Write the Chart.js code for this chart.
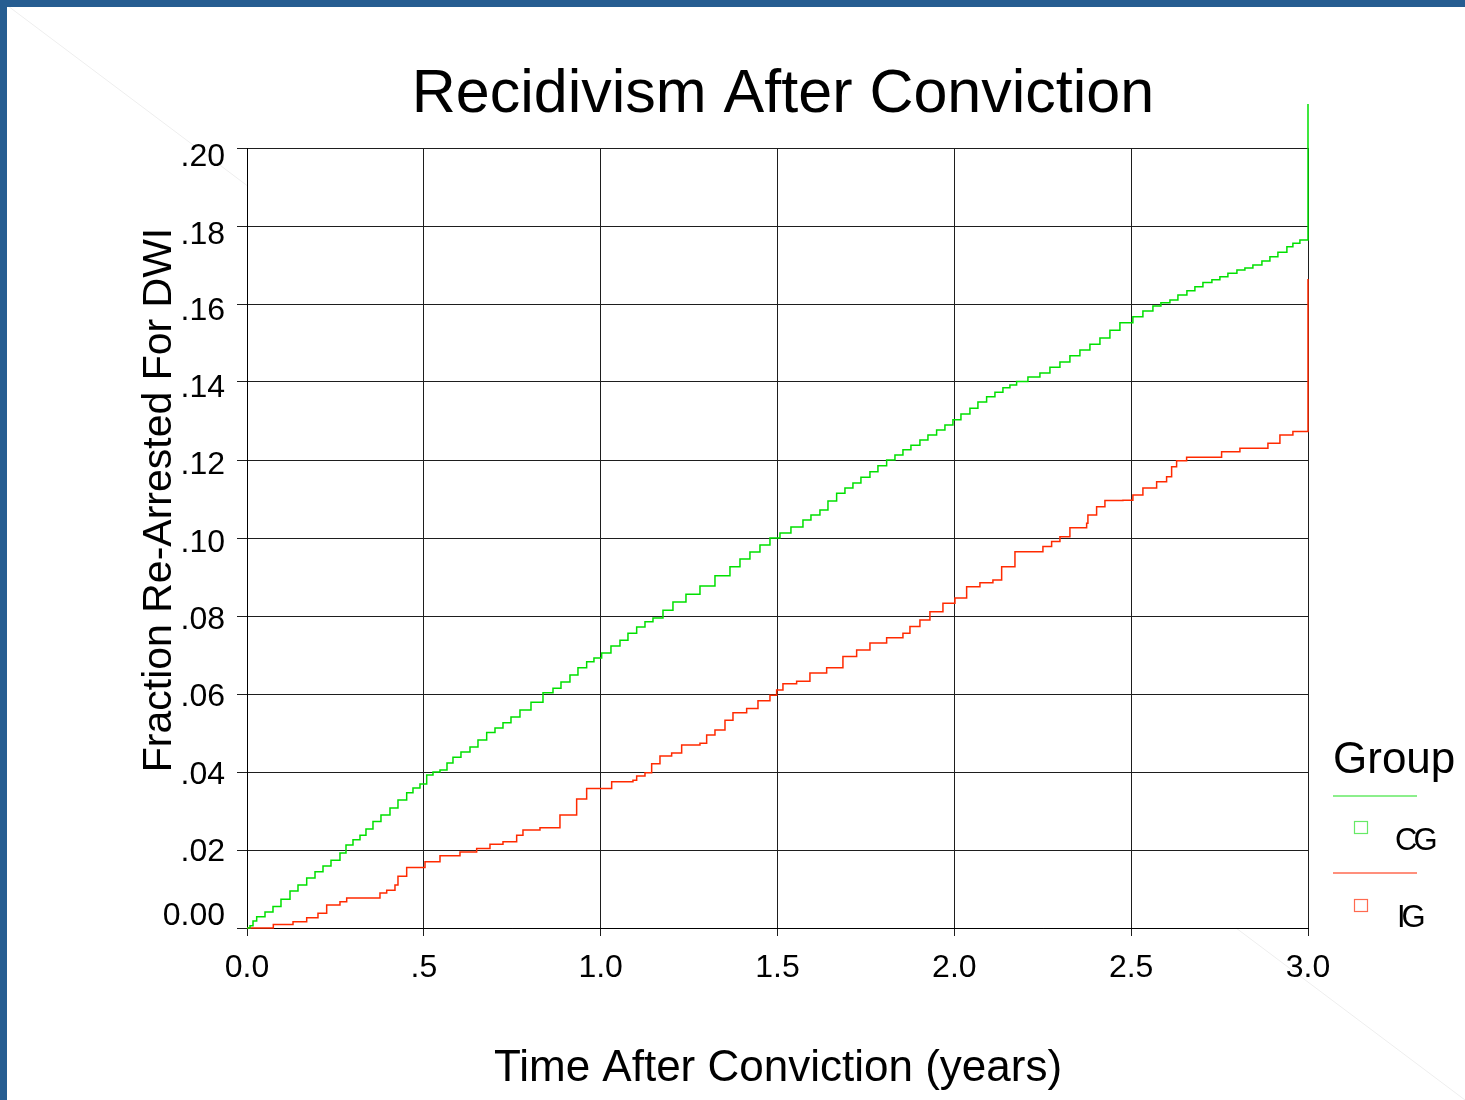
<!DOCTYPE html>
<html><head><meta charset="utf-8">
<script src="https://cdn.jsdelivr.net/npm/chart.js@4.4.1/dist/chart.umd.min.js"></script>
<style>html,body{margin:0;padding:0;background:#fff;overflow:hidden}canvas{display:block}</style>
</head><body>
<canvas id="c" width="1465" height="1100"></canvas>
<script>
const chartTitle = 'Recidivism After Conviction';
const xAxisTitle = 'Time After Conviction (years)';
const yAxisTitle = 'Fraction Re-Arrested For DWI';
const legendTitle = 'Group';
const groupNames = ['CG', 'IG'];
const xTickLabels = ['0.0', '.5', '1.0', '1.5', '2.0', '2.5', '3.0'];
const yTickLabels = ['0.00', '.02', '.04', '.06', '.08', '.10', '.12', '.14', '.16', '.18', '.20'];

const cgTime = [0, 0.0085, 0.0170, 0.0274, 0.0509, 0.0735, 0.0961, 0.1216, 0.1442, 0.1688, 0.1923, 0.2149, 0.2375, 0.2629, 0.2799, 0.2997, 0.3195, 0.3364, 0.3562, 0.3788, 0.4043, 0.4269, 0.4515, 0.4693, 0.4891, 0.5081, 0.5259, 0.5457, 0.5655, 0.5824, 0.6050, 0.6305, 0.6531, 0.6777, 0.7012, 0.7238, 0.7464, 0.7718, 0.8030, 0.8369, 0.8652, 0.8878, 0.9132, 0.9358, 0.9604, 0.9810, 1.0028, 1.0291, 1.0546, 1.0772, 1.1018, 1.1253, 1.1479, 1.1762, 1.2044, 1.2412, 1.2808, 1.3232, 1.3656, 1.3939, 1.4221, 1.4504, 1.4787, 1.5070, 1.5380, 1.5720, 1.5946, 1.6200, 1.6427, 1.6672, 1.6907, 1.7133, 1.7359, 1.7614, 1.7840, 1.8086, 1.8321, 1.8547, 1.8773, 1.9027, 1.9254, 1.9499, 1.9734, 1.9960, 2.0187, 2.0441, 2.0667, 2.0913, 2.1148, 2.1374, 2.1572, 2.1761, 2.2081, 2.2420, 2.2703, 2.2986, 2.3268, 2.3551, 2.3834, 2.4117, 2.4399, 2.4682, 2.5049, 2.5332, 2.5615, 2.5841, 2.6096, 2.6322, 2.6576, 2.6802, 2.7029, 2.7283, 2.7509, 2.7735, 2.7990, 2.8216, 2.8442, 2.8697, 2.8923, 2.9149, 2.9403, 2.9573, 2.9771, 3.0, 3.0];
const cgFrac = [0, 0.0006, 0.0018, 0.0029, 0.0041, 0.0055, 0.0074, 0.0095, 0.0110, 0.0128, 0.0144, 0.0159, 0.0174, 0.0192, 0.0213, 0.0226, 0.0238, 0.0254, 0.0273, 0.0290, 0.0308, 0.0328, 0.0347, 0.0359, 0.0369, 0.0392, 0.0400, 0.0405, 0.0423, 0.0438, 0.0451, 0.0464, 0.0482, 0.0501, 0.0513, 0.0526, 0.0541, 0.0559, 0.0579, 0.0603, 0.0615, 0.0631, 0.0649, 0.0667, 0.0683, 0.0692, 0.0705, 0.0723, 0.0738, 0.0756, 0.0772, 0.0785, 0.0795, 0.0815, 0.0836, 0.0856, 0.0877, 0.0903, 0.0926, 0.0946, 0.0964, 0.0982, 0.1000, 0.1013, 0.1028, 0.1046, 0.1059, 0.1072, 0.1095, 0.1115, 0.1128, 0.1141, 0.1156, 0.1170, 0.1185, 0.1200, 0.1213, 0.1226, 0.1238, 0.1251, 0.1264, 0.1277, 0.1290, 0.1303, 0.1318, 0.1333, 0.1349, 0.1362, 0.1374, 0.1385, 0.1392, 0.1401, 0.1413, 0.1423, 0.1438, 0.1451, 0.1467, 0.1482, 0.1497, 0.1513, 0.1533, 0.1552, 0.1567, 0.1582, 0.1595, 0.1603, 0.1610, 0.1623, 0.1634, 0.1644, 0.1655, 0.1662, 0.1670, 0.1679, 0.1687, 0.1692, 0.1700, 0.1710, 0.1721, 0.1733, 0.1747, 0.1756, 0.1764, 0.1774, 0.2113];

const igTime = [0, 0.0744, 0.1301, 0.1688, 0.2007, 0.2253, 0.2629, 0.2819, 0.3562, 0.3760, 0.3950, 0.4184, 0.4269, 0.4515, 0.5033, 0.5457, 0.6022, 0.6494, 0.6870, 0.7238, 0.7625, 0.7803, 0.8284, 0.8849, 0.9321, 0.9604, 1.0311, 1.0913, 1.1018, 1.1253, 1.1442, 1.1677, 1.2007, 1.2290, 1.2808, 1.2997, 1.3232, 1.3515, 1.3741, 1.4128, 1.4448, 1.4787, 1.4976, 1.5154, 1.5541, 1.5917, 1.6390, 1.6850, 1.7238, 1.7614, 1.8086, 1.8547, 1.8745, 1.9027, 1.9310, 1.9678, 2.0017, 2.0348, 2.0724, 2.1091, 2.1338, 2.1714, 2.2505, 2.2751, 2.2986, 2.3268, 2.3741, 2.3777, 2.4023, 2.4258, 2.4767, 2.5049, 2.5332, 2.5720, 2.6002, 2.6144, 2.6285, 2.6568, 2.7557, 2.8075, 2.8867, 2.9206, 2.9573, 3.0, 3.0];
const igFrac = [0, 0.0009, 0.0016, 0.0026, 0.0038, 0.0059, 0.0067, 0.0077, 0.0077, 0.0090, 0.0097, 0.0110, 0.0133, 0.0155, 0.0170, 0.0185, 0.0195, 0.0204, 0.0215, 0.0221, 0.0238, 0.0251, 0.0257, 0.0290, 0.0331, 0.0358, 0.0375, 0.0379, 0.0390, 0.0398, 0.0421, 0.0441, 0.0449, 0.0469, 0.0474, 0.0495, 0.0508, 0.0533, 0.0552, 0.0563, 0.0583, 0.0597, 0.0610, 0.0626, 0.0633, 0.0654, 0.0667, 0.0696, 0.0713, 0.0731, 0.0744, 0.0756, 0.0773, 0.0790, 0.0811, 0.0833, 0.0846, 0.0875, 0.0885, 0.0892, 0.0926, 0.0965, 0.0978, 0.0991, 0.1003, 0.1026, 0.1038, 0.1059, 0.1080, 0.1096, 0.1097, 0.1110, 0.1128, 0.1144, 0.1157, 0.1183, 0.1198, 0.1207, 0.1221, 0.1230, 0.1243, 0.1264, 0.1273, 0.1273, 0.1664];

const FAMILY = "'Liberation Sans', Arial, sans-serif";
const GREEN = '#00e000';
const RED = '#ff2a00';
// vertical nudges (px) of the y tick labels relative to their grid lines
const yLabelShift = [-12, 2, 3, 3, 4, 5, 5, 6, 7, 9, 9];

const toPts = (xs, ys) => xs.map((x, i) => ({x: x, y: ys[i]}));

const decor = {
  id: 'decor',
  beforeDraw(chart) {
    const c = chart.ctx;
    c.save();
    c.fillStyle = '#fff';
    c.fillRect(0, 0, chart.width, chart.height);
    c.strokeStyle = 'rgba(0,0,0,0.07)';
    c.lineWidth = 1;
    c.beginPath();
    c.moveTo(0, 0); c.lineTo(247, 185.5);
    c.moveTo(1236, 928); c.lineTo(1465, 1100);
    c.stroke();
    c.fillStyle = '#265d91';
    c.fillRect(0, 0, chart.width, 7);
    c.fillRect(0, 0, 7, chart.height);
    c.restore();
  },
  afterDraw(chart) {
    const c = chart.ctx;
    c.save();
    c.fillStyle = '#000';
    c.textAlign = 'center';
    c.textBaseline = 'alphabetic';
    c.font = '61px ' + FAMILY;
    c.fillText(chartTitle, 783, 112);
    c.font = '44px ' + FAMILY;
    c.fillText(xAxisTitle, 778, 1081);
    c.save();
    c.translate(171, 500);
    c.rotate(-Math.PI / 2);
    c.font = '41px ' + FAMILY;
    c.fillText(yAxisTitle, 0, 0);
    c.restore();
    // legend
    c.textAlign = 'left';
    c.font = '44px ' + FAMILY;
    c.fillText(legendTitle, 1333, 773);
    const items = [
      {name: groupNames[0], line: '#66ea66', y: 796, sq: 821.5, ty: 850, tx: 1395},
      {name: groupNames[1], line: '#ff6a50', y: 873, sq: 899.5, ty: 927, tx: 1397}
    ];
    items.forEach(it => {
      c.strokeStyle = it.line;
      c.lineWidth = 1.5;
      c.beginPath();
      c.moveTo(1333, it.y); c.lineTo(1417, it.y);
      c.stroke();
      c.lineWidth = 1.2;
      c.strokeRect(1354.5, it.sq, 13, 12);
      c.fillStyle = '#000';
      c.font = '31px ' + FAMILY;
      c.letterSpacing = '-4px';
      c.fillText(it.name, it.tx, it.ty);
      c.letterSpacing = '0px';
    });
    c.restore();
  }
};

new Chart(document.getElementById('c'), {
  type: 'line',
  data: {
    datasets: [
      {label: groupNames[0], data: toPts(cgTime, cgFrac), borderColor: GREEN, borderWidth: 1.5, stepped: 'before', pointRadius: 0, fill: false, clip: false},
      {label: groupNames[1], data: toPts(igTime, igFrac), borderColor: RED, borderWidth: 1.5, stepped: 'before', pointRadius: 0, fill: false, clip: false}
    ]
  },
  options: {
    responsive: false,
    animation: false,
    devicePixelRatio: 1,
    layout: {padding: {left: 0, top: 148, right: 157, bottom: 0}},
    plugins: {legend: {display: false}, title: {display: false}, tooltip: {enabled: false}},
    scales: {
      x: {
        type: 'linear', min: 0, max: 3,
        ticks: {stepSize: 0.5, padding: 13, color: '#000', autoSkip: false, maxRotation: 0,
          font: {family: FAMILY, size: 32},
          callback: (v, i) => xTickLabels[i]},
        grid: {color: '#1e1e1e', lineWidth: 1, tickLength: 8, tickColor: '#1e1e1e'},
        border: {color: '#000', width: 1},
        afterFit: s => { s.height = 172; }
      },
      y: {
        type: 'linear', min: 0, max: 0.2,
        ticks: {stepSize: 0.02, padding: 12, color: '#000', autoSkip: false,
          font: (ctx) => {
            const s = Math.abs(yLabelShift[ctx.index] || 0);
            return {family: FAMILY, size: 32, lineHeight: Math.max(2 * s, 1) + 'px'};
          },
          callback: (v, i) => (yLabelShift[i] >= 0 ? ['', yTickLabels[i]] : [yTickLabels[i], ''])},
        grid: {color: '#1e1e1e', lineWidth: 1, tickLength: 10, tickColor: '#1e1e1e'},
        border: {color: '#000', width: 1},
        afterFit: s => { s.width = 247; }
      }
    }
  },
  plugins: [decor]
});
</script>
</body></html>
